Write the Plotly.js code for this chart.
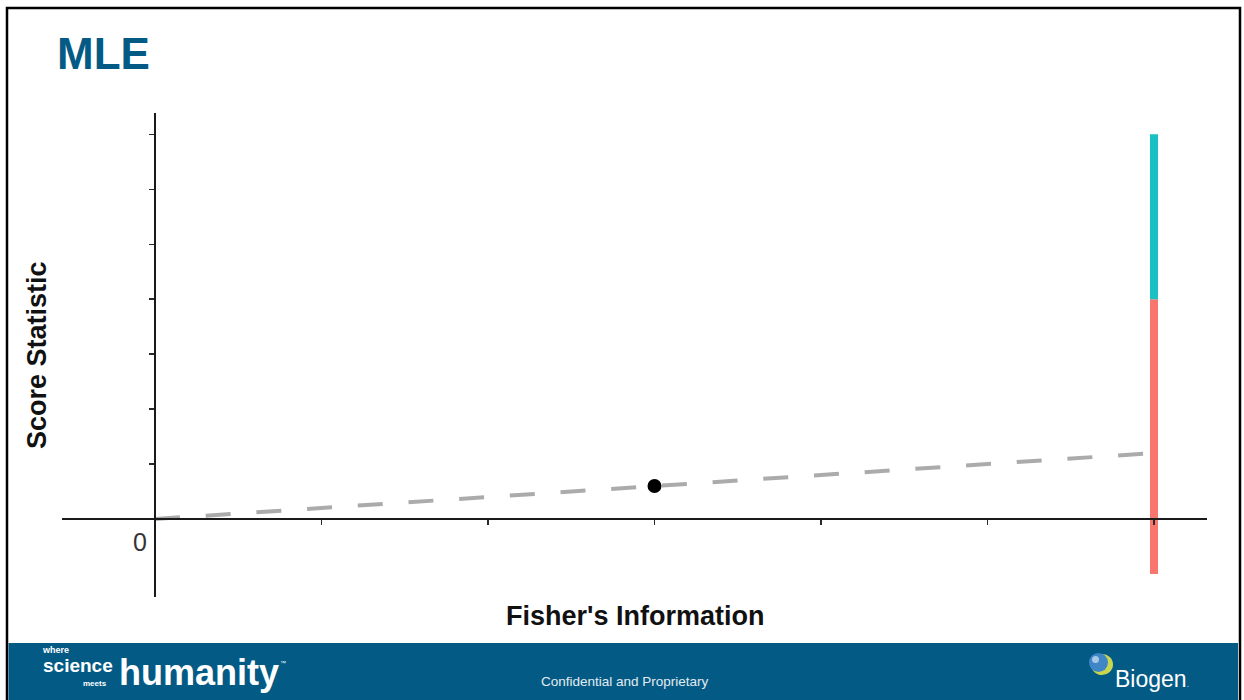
<!DOCTYPE html>
<html>
<head>
<meta charset="utf-8">
<script src="https://cdn.plot.ly/plotly-3.0.1.min.js"></script>
<style>
  html, body { margin: 0; padding: 0; background: #ffffff; }
  #chart { width: 1244px; height: 700px; }
</style>
</head>
<body>
<div id="chart"></div>
<script>
// ---- data ----
const trendX = [0, 6];
const trendY = [0, 1.2];
const pointX = [3];
const pointY = [0.6];
const barX = [6, 6];
const lowerSegY = [-1, 4];
const upperSegY = [4, 7];
const xTickVals = [1, 2, 3, 4, 5, 6];
const yTickVals = [1, 2, 3, 4, 5, 6, 7];
const xRange = [-0.5586, 6.3183];
const yRange = [-1.4195, 7.3885];

// ---- layout geometry (pixels) ----
const W = 1244, H = 700;
const M = { l: 62, r: 37, t: 113, b: 103 };
const PW = W - M.l - M.r, PH = H - M.t - M.b;
const px = v => (v - M.l) / PW;          // pixel x -> paper x
const py = v => (H - M.b - v) / PH;      // pixel y -> paper y

const FONT = 'Liberation Sans, Arial, sans-serif';
const NAVY = '#035b85';

const traces = [
  {
    x: trendX, y: trendY, type: 'scatter', mode: 'lines',
    line: { color: '#ababab', width: 4, dash: '25px,25.8px' },
    hoverinfo: 'skip', showlegend: false
  },
  {
    x: pointX, y: pointY, type: 'scatter', mode: 'markers',
    marker: { color: '#000000', size: 14 },
    hoverinfo: 'skip', showlegend: false
  },
  {
    x: barX, y: lowerSegY, type: 'scatter', mode: 'lines',
    line: { color: '#f8766d', width: 8 },
    hoverinfo: 'skip', showlegend: false
  },
  {
    x: barX, y: upperSegY, type: 'scatter', mode: 'lines',
    line: { color: '#19c1c3', width: 8 },
    hoverinfo: 'skip', showlegend: false
  }
];

const axisPosX = (0 - yRange[0]) / (yRange[1] - yRange[0]);
const axisPosY = (0 - xRange[0]) / (xRange[1] - xRange[0]);

const layout = {
  width: W, height: H,
  margin: M,
  paper_bgcolor: '#ffffff',
  plot_bgcolor: 'rgba(0,0,0,0)',
  showlegend: false,
  font: { family: FONT, color: '#000000' },
  title: {
    text: '<b>MLE</b>',
    font: { family: FONT, size: 44, color: NAVY },
    xref: 'container', yref: 'container',
    x: 57 / W, xanchor: 'left',
    y: 1 - 54 / H, yanchor: 'middle'
  },
  xaxis: {
    range: xRange, anchor: 'free', position: axisPosX,
    showgrid: false, zeroline: false,
    showline: true, linecolor: '#1a1a1a', linewidth: 2,
    ticks: 'outside', ticklen: 5, tickwidth: 1.5, tickcolor: '#2a2a2a',
    tickvals: xTickVals, showticklabels: false, fixedrange: true
  },
  yaxis: {
    range: yRange, anchor: 'free', position: axisPosY,
    showgrid: false, zeroline: false,
    showline: true, linecolor: '#1a1a1a', linewidth: 2,
    ticks: 'outside', ticklen: 5, tickwidth: 1.5, tickcolor: '#2a2a2a',
    tickvals: yTickVals, showticklabels: false, fixedrange: true
  },
  shapes: [
    // slide frame
    { type: 'rect', xref: 'paper', yref: 'paper', layer: 'below',
      x0: px(7), x1: px(1240), y0: py(705), y1: py(8),
      line: { color: '#000000', width: 2.5 }, fillcolor: 'rgba(0,0,0,0)' },
    // footer band
    { type: 'rect', xref: 'paper', yref: 'paper', layer: 'below',
      x0: px(8.5), x1: px(1238), y0: py(700), y1: py(643),
      line: { width: 0 }, fillcolor: NAVY },
    // Biogen sphere mark
    { type: 'circle', xref: 'paper', yref: 'paper', layer: 'above',
      x0: px(1091), x1: px(1113), y0: py(675), y1: py(654),
      line: { width: 0 }, fillcolor: '#c9d64f' },
    { type: 'circle', xref: 'paper', yref: 'paper', layer: 'above',
      x0: px(1089), x1: px(1108), y0: py(672), y1: py(653),
      line: { width: 0 }, fillcolor: '#3f86c6' },
    { type: 'circle', xref: 'paper', yref: 'paper', layer: 'above',
      x0: px(1092), x1: px(1099), y0: py(663), y1: py(656),
      line: { width: 0 }, fillcolor: 'rgba(255,255,255,0.55)' }
  ],
  annotations: [
    { text: '<b>Fisher\'s Information</b>', xref: 'paper', yref: 'paper',
      x: px(634.5), y: py(616), xanchor: 'center', yanchor: 'middle',
      showarrow: false, font: { family: FONT, size: 27, color: '#111111' } },
    { text: '<b>Score Statistic</b>', xref: 'paper', yref: 'paper',
      x: px(37), y: py(355), xanchor: 'center', yanchor: 'middle', textangle: -90,
      showarrow: false, font: { family: FONT, size: 27, color: '#111111' } },
    { text: '0', xref: 'paper', yref: 'paper',
      x: px(140), y: py(542), xanchor: 'center', yanchor: 'middle',
      showarrow: false, font: { family: FONT, size: 25, color: '#333333' } },
    // footer logo lockup: where / science
    { text: '<b><span style="font-size:9px">where</span><br>' +
            '<span style="font-size:19px">science</span></b>',
      xref: 'paper', yref: 'paper',
      x: px(41), y: py(677), xanchor: 'left', yanchor: 'bottom', align: 'left',
      showarrow: false, borderpad: 0,
      font: { family: FONT, size: 14.6, color: '#ffffff', weight: 'bold' } },
    { text: '<b>meets</b>', xref: 'paper', yref: 'paper',
      x: px(82), y: py(683.5), xanchor: 'left', yanchor: 'middle',
      showarrow: false, borderpad: 0,
      font: { family: FONT, size: 8, color: '#ffffff', weight: 'bold' } },
    { text: '<b>humanity</b>', xref: 'paper', yref: 'paper',
      x: px(118), y: py(672), xanchor: 'left', yanchor: 'middle',
      showarrow: false, borderpad: 0,
      font: { family: FONT, size: 36, color: '#ffffff', weight: 'bold' } },
    { text: '™', xref: 'paper', yref: 'paper',
      x: px(279), y: py(663), xanchor: 'left', yanchor: 'middle',
      showarrow: false, borderpad: 0, font: { family: FONT, size: 6, color: '#ffffff' } },
    { text: 'Confidential and Proprietary', xref: 'paper', yref: 'paper',
      x: px(625), y: py(681), xanchor: 'center', yanchor: 'middle',
      showarrow: false, font: { family: FONT, size: 13.5, color: '#e3ebf1' } },
    { text: 'Biogen<span style="font-size:8px">.</span>', xref: 'paper', yref: 'paper',
      x: px(1113), y: py(679), xanchor: 'left', yanchor: 'middle',
      showarrow: false, font: { family: FONT, size: 23, color: '#ffffff' } }
  ]
};

Plotly.newPlot('chart', traces, layout, { displayModeBar: false, staticPlot: true });
</script>
</body>
</html>
